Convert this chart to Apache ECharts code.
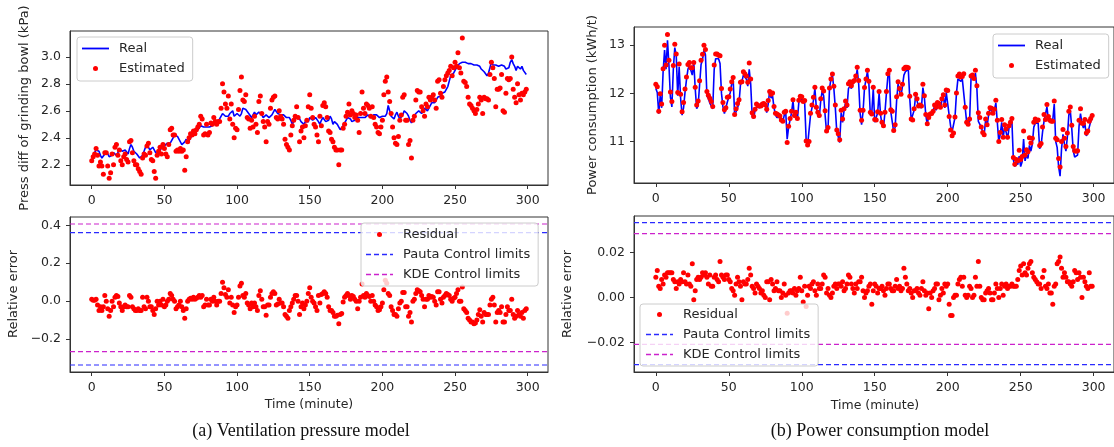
<!DOCTYPE html>
<html>
<head>
<meta charset="utf-8">
<script src="https://cdn.jsdelivr.net/npm/echarts@6/dist/echarts.min.js"></script>
<style>
html,body{margin:0;padding:0;background:#fff;}
#chart{width:1114px;height:447px;}
</style>
</head>
<body>
<div id="chart"></div>
<script>
// ---------------- DATA ----------------
const X_TICKS = [0, 50, 100, 150, 200, 250, 300];
const PRESS_TICKS = [2.2, 2.4, 2.6, 2.8, 3.0];
const RES_A_TICKS = [-0.2, 0.0, 0.2, 0.4];
const POWER_TICKS = [11, 12, 13];
const RES_B_TICKS = [-0.02, 0.0, 0.02];

const PRESS_REAL = [
2.22,2.26,2.29,2.31,2.30,2.30,2.27,2.25,2.24,2.28,
2.30,2.28,2.26,2.25,2.27,2.29,2.28,2.27,2.29,2.32,
2.31,2.30,2.31,2.31,2.30,2.28,2.32,2.35,2.33,2.30,
2.29,2.28,2.27,2.25,2.24,2.27,2.30,2.33,2.35,2.34,
2.31,2.30,2.33,2.32,2.29,2.28,2.28,2.30,2.33,2.34,
2.34,2.34,2.36,2.37,2.36,2.37,2.40,2.42,2.42,2.41,
2.39,2.37,2.35,2.34,2.37,2.39,2.36,2.38,2.40,2.42,
2.43,2.44,2.44,2.46,2.47,2.49,2.49,2.48,2.47,2.48,
2.48,2.48,2.49,2.49,2.50,2.51,2.52,2.52,2.54,2.55,
2.58,2.57,2.56,2.57,2.56,2.58,2.59,2.60,2.56,2.55,
2.58,2.57,2.56,2.58,2.62,2.63,2.61,2.60,2.58,2.57,
2.55,2.56,2.59,2.57,2.56,2.59,2.60,2.57,2.55,2.54,
2.57,2.58,2.55,2.54,2.57,2.59,2.61,2.60,2.58,2.57,
2.57,2.56,2.57,2.56,2.55,2.56,2.55,2.53,2.50,2.51,
2.54,2.55,2.56,2.54,2.52,2.51,2.50,2.52,2.53,2.52,
2.55,2.56,2.53,2.52,2.55,2.56,2.52,2.50,2.53,2.55,
2.54,2.52,2.51,2.53,2.56,2.54,2.50,2.52,2.53,2.50,
2.48,2.46,2.47,2.49,2.51,2.53,2.55,2.56,2.54,2.52,
2.51,2.53,2.55,2.54,2.55,2.56,2.55,2.54,2.55,2.56,
2.57,2.56,2.55,2.56,2.57,2.58,2.57,2.56,2.55,2.56,
2.56,2.55,2.56,2.58,2.64,2.60,2.56,2.55,2.54,2.57,
2.59,2.56,2.54,2.55,2.57,2.60,2.61,2.58,2.56,2.53,
2.51,2.53,2.56,2.58,2.59,2.60,2.59,2.58,2.60,2.62,
2.61,2.60,2.62,2.64,2.66,2.67,2.66,2.68,2.70,2.69,
2.71,2.73,2.72,2.74,2.75,2.78,2.82,2.86,2.87,2.88,
2.90,2.92,2.93,2.95,2.96,2.96,2.95,2.96,2.95,2.95,
2.96,2.95,2.95,2.94,2.95,2.94,2.95,2.93,2.91,2.90,
2.89,2.88,2.86,2.88,2.92,2.96,2.94,2.95,2.94,2.93,
2.93,2.92,2.94,2.95,2.93,2.91,2.90,2.92,2.96,2.98,
2.95,2.93,2.90,2.93,2.94,2.91,2.93,2.90,2.89,2.87];

const PRESS_EST = [
2.23,2.26,2.28,2.32,2.27,2.19,2.22,2.19,2.13,2.29,
2.29,2.19,2.10,2.14,2.28,2.20,2.33,2.35,2.27,2.31,
2.23,2.20,2.26,2.28,2.24,2.22,2.37,2.38,2.29,2.23,
2.20,2.20,2.17,2.15,2.13,2.25,2.28,2.27,2.34,2.36,
2.29,2.24,2.23,2.15,2.10,2.27,2.30,2.33,2.28,2.35,
2.32,2.28,2.26,2.35,2.46,2.47,2.42,2.42,2.30,2.31,
2.30,2.32,2.30,2.31,2.16,2.26,2.37,2.40,2.43,2.42,
2.45,2.43,2.46,2.48,2.50,2.56,2.54,2.42,2.43,2.50,
2.42,2.44,2.51,2.50,2.55,2.52,2.50,2.52,2.52,2.62,
2.80,2.74,2.65,2.62,2.71,2.54,2.65,2.50,2.40,2.47,
2.46,2.61,2.75,2.85,2.68,2.67,2.72,2.55,2.54,2.47,
2.53,2.48,2.56,2.50,2.44,2.67,2.71,2.58,2.52,2.48,
2.37,2.52,2.50,2.62,2.68,2.70,2.71,2.55,2.54,2.60,
2.56,2.54,2.50,2.39,2.35,2.33,2.31,2.42,2.49,2.53,
2.56,2.63,2.55,2.37,2.45,2.48,2.40,2.49,2.53,2.63,
2.72,2.62,2.55,2.50,2.48,2.42,2.37,2.56,2.49,2.64,
2.66,2.63,2.55,2.45,2.44,2.39,2.37,2.33,2.31,2.31,
2.20,2.31,2.31,2.47,2.50,2.56,2.59,2.65,2.57,2.60,
2.58,2.55,2.57,2.53,2.44,2.58,2.74,2.62,2.58,2.65,
2.64,2.62,2.56,2.63,2.55,2.50,2.48,2.44,2.43,2.48,
2.53,2.72,2.82,2.85,2.74,2.67,2.58,2.48,2.40,2.36,
2.35,2.41,2.53,2.57,2.70,2.72,2.53,2.53,2.35,2.38,
2.25,2.53,2.56,2.68,2.75,2.74,2.74,2.63,2.60,2.56,
2.65,2.63,2.70,2.68,2.70,2.72,2.68,2.62,2.82,2.83,
2.73,2.70,2.78,2.83,2.86,2.88,2.90,2.93,2.86,2.92,
2.96,2.93,3.03,2.92,2.88,3.14,2.82,2.81,2.78,2.70,
2.65,2.64,2.62,2.60,2.58,2.61,2.65,2.70,2.68,2.58,
2.70,2.69,2.69,2.68,2.87,2.96,2.92,2.84,2.63,2.76,
2.76,2.77,2.87,2.60,2.59,2.73,2.84,2.83,2.84,3.00,
2.76,2.70,2.66,2.80,2.72,2.68,2.73,2.72,2.74,2.76];

const PRESS_RES = [
0.01,0.005,0.005,0.01,-0.02,-0.05,-0.03,-0.05,-0.03,0.03,
0.0,-0.04,-0.08,-0.05,0.0,-0.03,0.02,0.03,0.025,-0.01,
-0.03,-0.05,-0.03,-0.02,-0.03,-0.03,0.03,0.02,-0.03,-0.04,
-0.05,-0.05,-0.04,-0.05,-0.05,0.02,-0.03,-0.04,0.02,0.0,
-0.03,-0.03,-0.05,-0.07,-0.04,0.0,-0.02,0.0,-0.02,0.01,
-0.03,-0.02,0.0,0.01,0.04,0.03,0.01,0.0,-0.04,-0.03,
-0.02,0.0,-0.03,-0.05,-0.09,-0.04,0.0,0.01,0.015,0.01,
0.02,0.01,0.015,0.02,0.03,0.02,0.03,-0.03,-0.02,0.01,
-0.02,-0.02,0.01,0.0,0.02,0.0,-0.02,0.0,0.0,0.04,
0.10,0.07,0.035,0.02,0.06,-0.01,0.02,-0.02,-0.06,-0.03,
-0.02,0.02,0.08,0.095,0.03,0.02,0.04,-0.01,-0.02,-0.04,
-0.01,-0.03,-0.01,-0.03,-0.05,0.03,0.055,0.01,-0.03,-0.03,
-0.075,-0.02,-0.02,0.02,0.04,0.05,0.04,-0.02,-0.015,0.01,
-0.01,-0.01,-0.03,-0.07,-0.08,-0.09,-0.05,-0.03,-0.01,0.01,
0.03,0.03,0.0,-0.07,-0.03,-0.01,-0.04,-0.02,0.0,0.04,
0.07,0.02,0.0,-0.01,-0.03,-0.05,0.03,-0.01,0.035,0.04,
0.05,0.04,0.02,-0.03,-0.05,-0.05,-0.06,-0.08,-0.08,-0.075,
-0.12,-0.07,-0.065,-0.005,0.02,0.03,0.04,0.03,0.01,0.03,
0.025,0.01,0.0,-0.04,0.0,0.02,0.09,0.03,0.02,0.04,
0.03,0.025,0.0,0.03,0.0,-0.02,-0.03,-0.05,-0.045,-0.03,
-0.01,0.06,0.11,0.095,0.04,0.03,-0.03,-0.05,-0.07,-0.07,
-0.08,-0.04,-0.01,0.0,0.045,0.045,-0.03,-0.03,-0.08,-0.06,
-0.11,0.0,0.01,0.04,0.06,0.055,0.05,0.03,0.01,-0.03,
0.01,0.01,0.03,0.02,0.025,0.02,0.0,-0.02,0.05,0.05,
0.01,-0.01,0.02,0.03,0.04,0.035,0.03,0.01,0.0,0.015,
0.02,0.04,0.06,0.0,0.0,0.075,-0.04,-0.05,-0.06,-0.09,
-0.10,-0.11,-0.11,-0.12,-0.115,-0.10,-0.07,-0.045,-0.08,-0.11,
-0.06,-0.07,-0.07,-0.07,-0.02,0.01,0.02,-0.02,-0.11,-0.06,
-0.05,-0.06,-0.03,-0.11,-0.11,-0.07,-0.03,-0.05,-0.05,0.01,
-0.07,-0.09,-0.08,-0.05,-0.07,-0.08,-0.06,-0.09,-0.05,-0.04];

const POWER_REAL = [
12.10,12.02,11.58,11.95,11.70,12.45,12.90,12.50,13.10,12.58,
11.92,11.72,12.50,12.95,12.78,11.95,12.55,11.90,11.55,11.70,
12.02,12.28,12.50,12.58,12.48,12.38,12.65,12.10,11.68,11.75,
12.18,12.60,12.70,12.90,12.80,11.95,11.90,11.80,11.78,11.68,
12.50,12.72,12.74,12.72,12.62,12.00,11.72,11.58,11.60,11.82,
11.85,12.02,12.20,12.30,11.55,11.62,11.70,11.80,12.18,12.25,
12.38,12.35,12.30,12.15,12.50,12.20,11.55,11.48,11.65,11.72,
11.70,11.70,11.72,11.75,11.78,11.76,11.60,11.78,12.05,11.90,
11.95,11.70,11.55,11.50,11.52,11.50,11.45,11.40,11.55,11.62,
11.05,11.30,11.45,11.60,11.85,11.50,11.60,11.45,11.82,11.85,
11.90,11.85,11.80,11.05,10.92,10.95,11.55,11.70,11.85,12.10,
11.70,11.55,11.50,11.85,12.05,11.95,11.55,11.20,11.25,12.10,
12.30,12.38,12.10,11.70,11.20,11.10,10.98,11.60,11.40,11.65,
11.80,11.70,12.10,12.15,12.10,12.20,12.25,12.30,12.50,12.20,
11.58,11.35,11.62,12.12,12.28,12.45,12.20,11.55,11.60,12.10,
11.40,11.40,11.60,12.00,11.55,11.35,11.30,11.60,12.00,12.35,
12.42,11.62,11.60,11.20,11.30,11.85,12.20,12.05,11.95,12.15,
12.38,12.45,12.48,12.50,11.90,11.45,11.45,11.65,11.95,11.85,
11.72,11.75,11.70,12.12,11.92,11.55,11.35,11.55,11.55,11.58,
11.60,11.72,11.65,11.75,11.80,11.70,11.85,11.95,11.70,12.02,
12.00,11.55,11.32,11.20,11.18,11.50,12.00,12.30,12.32,12.25,
12.30,12.32,11.70,11.40,11.35,11.42,12.32,12.38,12.30,12.42,
12.10,11.42,11.45,11.30,11.20,11.15,11.45,11.32,11.55,11.68,
11.70,11.60,11.65,11.80,11.40,11.00,11.15,11.40,11.08,11.30,
11.20,11.05,11.28,11.35,11.42,10.62,10.48,10.58,10.52,10.70,
10.48,10.58,11.05,10.60,10.72,10.65,10.92,10.80,10.95,11.30,
11.38,11.35,11.38,10.85,10.92,11.20,11.42,11.40,11.72,11.45,
11.42,11.40,11.45,11.78,11.00,10.88,10.48,10.28,10.85,11.15,
10.95,10.80,11.10,11.55,11.65,11.28,10.82,10.68,10.68,10.72,
11.32,11.58,11.38,11.28,11.38,11.12,11.18,11.30,11.42,11.48];

const POWER_EST = [
12.19,12.14,11.63,11.99,11.78,12.51,13.00,12.59,13.22,12.69,
12.03,11.83,12.58,13.02,12.82,12.02,12.61,11.98,11.62,11.81,
12.09,12.34,12.60,12.64,12.53,12.53,12.64,12.13,11.76,11.84,
12.26,12.69,12.81,13.00,12.91,12.04,11.96,11.90,11.83,11.73,
12.59,12.82,12.82,12.79,12.78,12.10,11.81,11.66,11.70,11.92,
11.93,12.09,12.24,12.33,11.56,11.68,11.79,11.87,12.23,12.24,
12.45,12.41,12.36,12.23,12.63,12.30,11.60,11.52,11.67,11.78,
11.75,11.74,11.74,11.78,11.79,11.76,11.67,11.85,12.04,11.98,
12.01,11.73,11.59,11.57,11.55,11.53,11.45,11.42,11.61,11.63,
10.98,11.32,11.48,11.63,11.87,11.54,11.61,11.48,11.86,11.94,
11.93,11.83,11.85,11.01,10.93,11.00,11.59,11.76,11.92,12.13,
11.71,11.61,11.54,11.89,12.11,12.05,11.64,11.22,11.29,12.11,
12.30,12.40,12.15,11.76,11.24,11.16,11.04,11.65,11.47,11.68,
11.84,11.76,12.20,12.24,12.16,12.24,12.27,12.36,12.54,12.27,
11.65,11.44,11.65,12.12,12.30,12.48,12.25,11.61,11.57,12.13,
11.46,11.45,11.62,12.04,11.59,11.40,11.33,11.61,12.04,12.41,
12.48,11.66,11.63,11.23,11.35,11.93,12.24,12.10,11.98,12.19,
12.51,12.54,12.54,12.53,11.94,11.47,11.45,11.68,11.98,11.89,
11.74,11.76,11.74,12.19,11.95,11.56,11.37,11.50,11.57,11.58,
11.63,11.76,11.71,11.81,11.79,11.71,11.89,11.97,11.76,12.07,
12.06,11.52,11.24,11.12,11.18,11.51,12.01,12.36,12.40,12.34,
12.35,12.41,11.71,11.40,11.36,11.47,12.36,12.38,12.31,12.48,
12.16,11.60,11.50,11.30,11.19,11.14,11.47,11.35,11.59,11.70,
11.69,11.59,11.67,11.86,11.44,11.00,11.19,11.46,11.09,11.35,
11.26,11.09,11.33,11.40,11.48,10.67,10.53,10.63,10.60,10.82,
10.63,10.69,11.22,10.72,10.83,10.79,11.08,10.97,11.07,11.40,
11.47,11.43,11.45,10.92,10.96,11.30,11.56,11.46,11.77,11.52,
11.44,11.42,11.42,11.84,11.07,11.04,10.65,10.47,11.00,11.25,
11.07,10.90,11.18,11.63,11.72,11.34,10.90,10.81,10.80,10.81,
11.44,11.68,11.38,11.38,11.46,11.18,11.22,11.42,11.48,11.54];

const POWER_RES = [
0.009,0.012,0.005,0.004,0.008,0.006,0.010,0.009,0.011,0.011,
0.011,0.011,0.008,0.007,0.004,0.007,0.006,0.008,0.007,0.011,
0.007,0.006,0.010,0.006,0.005,0.015,-0.001,0.003,0.008,0.009,
0.008,0.009,0.011,0.010,0.011,0.009,0.006,0.010,0.005,0.005,
0.009,0.010,0.008,0.007,0.016,0.010,0.009,0.008,0.010,0.010,
0.008,0.007,0.004,0.003,0.001,0.006,0.009,0.007,0.005,-0.001,
0.007,0.006,0.006,0.008,0.013,0.010,0.005,0.004,0.002,0.006,
0.005,0.004,0.002,0.003,0.001,0.000,0.007,0.007,-0.001,0.008,
0.006,0.003,0.004,0.007,0.003,0.003,0.000,0.002,0.006,0.001,
-0.007,0.002,0.003,0.003,0.002,0.004,0.001,0.003,0.004,0.009,
0.003,-0.002,0.005,-0.004,0.001,0.005,0.004,0.006,0.007,0.003,
0.001,0.006,0.004,0.004,0.006,0.010,0.009,0.002,0.004,0.001,
0.000,0.002,0.005,0.006,0.004,0.006,0.006,0.005,0.007,0.003,
0.004,0.006,0.010,0.009,0.006,0.004,0.002,0.006,0.004,0.007,
0.007,0.009,0.003,0.000,0.002,0.003,0.005,0.006,-0.003,0.003,
0.006,0.005,0.002,0.004,0.004,0.005,0.003,0.001,0.004,0.006,
0.006,0.004,0.003,0.003,0.005,0.008,0.004,0.005,0.003,0.004,
0.013,0.009,0.006,0.003,0.004,0.002,0.000,0.003,0.003,0.004,
0.002,0.001,0.004,0.007,0.003,0.001,0.002,-0.005,0.002,0.000,
0.003,0.004,0.006,0.006,-0.001,0.001,0.004,0.002,0.006,0.005,
0.006,-0.003,-0.008,-0.008,0.000,0.001,0.001,0.006,0.008,0.009,
0.005,0.009,0.001,0.000,0.001,0.005,0.004,0.000,0.001,0.009,
0.005,0.016,0.005,0.000,-0.001,-0.001,0.002,0.003,0.004,0.002,
-0.001,-0.001,0.002,0.006,0.004,0.000,0.004,0.006,0.001,0.005,
0.006,0.004,0.005,0.005,0.006,0.005,0.005,0.005,0.008,0.012,
0.014,0.010,0.015,0.011,0.010,0.013,0.015,0.016,0.011,0.009,
0.008,0.007,0.006,0.006,0.004,0.009,0.012,0.005,0.004,0.006,
0.002,0.002,-0.003,0.005,0.006,0.015,0.016,0.018,0.013,0.009,
0.011,0.009,0.007,0.007,0.006,0.005,0.007,0.012,0.011,0.008,
0.011,0.009,0.000,0.009,0.007,0.005,0.004,0.011,0.005,0.005];

// control limits [upper, lower]
const PAUTA_A = [0.362, -0.337];
const KDE_A = [0.407, -0.266];
const PAUTA_B = [0.0333, -0.0298];
const KDE_B = [0.0284, -0.0208];

// ---------------- CHART ----------------
const X_MIN = -14.95, X_MAX = 313.95;   // axis extent (matplotlib 5% margins)
const FONT = 'DejaVu Sans';
const TXT = '#262626';
const BLUE = '#0000ff';
const RED = '#ff0000';
const PAUTA_COLOR = '#2a2aff';
const KDE_COLOR = '#cc22cc';
const DASH = [5, 3];
const ICON_SOLID = 'path://M0,0h27v1.8h-27z';
const ICON_DASH = 'path://M0,0h5v1.3h-5zM8,0h5v1.3h-5zM16,0h5v1.3h-5zM24,0h3v1.3h-3z';
const DOT = 5;

const pairs = arr => arr.map((v, i) => [i, v]);
const fmt = d => v => (v < 0 ? '\u2212' + Math.abs(v).toFixed(d) : v.toFixed(d));

function xAxis(gi) {
  return {
    type: 'value', gridIndex: gi, min: X_MIN, max: X_MAX,
    axisLine: { show: true, onZero: false, lineStyle: { color: '#333', width: 1 } },
    axisTick: { show: true, length: 4, customValues: X_TICKS, lineStyle: { color: '#333' } },
    axisLabel: { customValues: X_TICKS, margin: 9, fontSize: 12.5, fontFamily: FONT, color: TXT },
    splitLine: { show: false }
  };
}
function yAxis(gi, min, max, ticks, d) {
  return {
    type: 'value', gridIndex: gi, min: min, max: max,
    axisLine: { show: true, onZero: false, lineStyle: { color: '#333', width: 1 } },
    axisTick: { show: true, length: 4, customValues: ticks, lineStyle: { color: '#333' } },
    axisLabel: { customValues: ticks, margin: 9, fontSize: 12.5, fontFamily: FONT, color: TXT, formatter: fmt(d) },
    splitLine: { show: false }
  };
}
// one horizontal dashed control-limit line across the axis extent
function limitLine(name, gi, v, color) {
  return {
    name: name, type: 'line', xAxisIndex: gi, yAxisIndex: gi,
    data: [[X_MIN, v], [X_MAX, v]],
    symbol: 'none', silent: true,
    lineStyle: { color: color, type: DASH, width: 1.2 },
    itemStyle: { color: color },
    z: 2
  };
}
function scatter(name, gi, arr) {
  return {
    name: name, type: 'scatter', xAxisIndex: gi, yAxisIndex: gi, data: pairs(arr), symbolSize: DOT,
    itemStyle: { color: RED, opacity: 1 }, z: 3
  };
}
const legendBase = {
  orient: 'vertical', selectedMode: false, itemWidth: 27, itemHeight: 5, itemGap: 5,
  backgroundColor: 'rgba(255,255,255,0.8)', borderColor: '#cccccc', borderWidth: 1, borderRadius: 3,
  textStyle: { fontSize: 13, fontFamily: FONT, color: TXT, lineHeight: 15, padding: [0, 0, 0, 5] }
};
function legend(o) { return Object.assign({}, legendBase, o); }
const realEstLegend = [
  { name: 'Real', icon: ICON_SOLID },
  { name: 'Estimated', icon: 'circle' }
];
const resLegend = [
  { name: 'Residual', icon: 'circle' },
  { name: 'Pauta Control limits', icon: ICON_DASH },
  { name: 'KDE Control limits', icon: ICON_DASH }
];

const gridBase = { show: true, borderColor: '#333', borderWidth: 1, backgroundColor: 'transparent', containLabel: false };

const chart = echarts.init(document.getElementById('chart'), null, { renderer: 'canvas' });
chart.setOption({
  animation: false,
  backgroundColor: '#ffffff',
  grid: [
    Object.assign({ left: 70, top: 31, width: 478, height: 154 }, gridBase),
    Object.assign({ left: 70, top: 217, width: 478, height: 155 }, gridBase),
    Object.assign({ left: 634, top: 27, width: 483, height: 156 }, gridBase),
    Object.assign({ left: 634, top: 216, width: 483, height: 156 }, gridBase)
  ],
  xAxis: [xAxis(0), xAxis(1), xAxis(2), xAxis(3)],
  yAxis: [
    yAxis(0, 2.050, 3.192, PRESS_TICKS, 1),
    yAxis(1, -0.374, 0.444, RES_A_TICKS, 1),
    yAxis(2, 10.140, 13.378, POWER_TICKS, 0),
    yAxis(3, -0.0331, 0.0362, RES_B_TICKS, 2)
  ],
  legend: [
    legend({ left: 77, top: 37, padding: [4, 8, 5, 5], data: realEstLegend }),
    legend({ left: 361, top: 223, padding: [4, 8, 4, 5], data: resLegend }),
    legend({ left: 993, top: 34, padding: [4, 8, 5, 5], data: realEstLegend }),
    legend({ left: 640, top: 304, padding: [3, 8, 4, 6], data: resLegend })
  ],
  series: [
    { name: 'Real', type: 'line', xAxisIndex: 0, yAxisIndex: 0, data: pairs(PRESS_REAL), symbol: 'none',
      lineStyle: { color: BLUE, width: 1.6 }, itemStyle: { color: BLUE }, z: 2 },
    scatter('Estimated', 0, PRESS_EST),
    scatter('Residual', 1, PRESS_RES),
    limitLine('Pauta Control limits', 1, PAUTA_A[0], PAUTA_COLOR),
    limitLine('Pauta Control limits', 1, PAUTA_A[1], PAUTA_COLOR),
    limitLine('KDE Control limits', 1, KDE_A[0], KDE_COLOR),
    limitLine('KDE Control limits', 1, KDE_A[1], KDE_COLOR),
    { name: 'Real', type: 'line', xAxisIndex: 2, yAxisIndex: 2, data: pairs(POWER_REAL), symbol: 'none',
      lineStyle: { color: BLUE, width: 1.6 }, itemStyle: { color: BLUE }, z: 2 },
    scatter('Estimated', 2, POWER_EST),
    scatter('Residual', 3, POWER_RES),
    limitLine('Pauta Control limits', 3, PAUTA_B[0], PAUTA_COLOR),
    limitLine('Pauta Control limits', 3, PAUTA_B[1], PAUTA_COLOR),
    limitLine('KDE Control limits', 3, KDE_B[0], KDE_COLOR),
    limitLine('KDE Control limits', 3, KDE_B[1], KDE_COLOR)
  ],
  graphic: [
    { type: 'text', x: 25, y: 108, rotation: Math.PI / 2,
      style: { text: 'Press diff of grinding bowl (kPa)', font: '13px "DejaVu Sans"', fill: TXT, textAlign: 'center', textVerticalAlign: 'middle' } },
    { type: 'text', x: 14, y: 294, rotation: Math.PI / 2,
      style: { text: 'Relative error', font: '13px "DejaVu Sans"', fill: TXT, textAlign: 'center', textVerticalAlign: 'middle' } },
    { type: 'text', x: 309, y: 405,
      style: { text: 'Time (minute)', font: '12.5px "DejaVu Sans"', fill: TXT, textAlign: 'center', textVerticalAlign: 'middle' } },
    { type: 'text', x: 301, y: 431,
      style: { text: '(a) Ventilation pressure model', font: '18px "Liberation Serif"', fill: '#111', textAlign: 'center', textVerticalAlign: 'middle' } },
    { type: 'text', x: 593, y: 105, rotation: Math.PI / 2,
      style: { text: 'Power consumption (kWh/t)', font: '13px "DejaVu Sans"', fill: TXT, textAlign: 'center', textVerticalAlign: 'middle' } },
    { type: 'text', x: 568, y: 294, rotation: Math.PI / 2,
      style: { text: 'Relative error', font: '13px "DejaVu Sans"', fill: TXT, textAlign: 'center', textVerticalAlign: 'middle' } },
    { type: 'text', x: 875, y: 406,
      style: { text: 'Time (minute)', font: '12.5px "DejaVu Sans"', fill: TXT, textAlign: 'center', textVerticalAlign: 'middle' } },
    { type: 'text', x: 880, y: 431,
      style: { text: '(b) Power consumption model', font: '18px "Liberation Serif"', fill: '#111', textAlign: 'center', textVerticalAlign: 'middle' } }
  ]
});
</script>
</body>
</html>
